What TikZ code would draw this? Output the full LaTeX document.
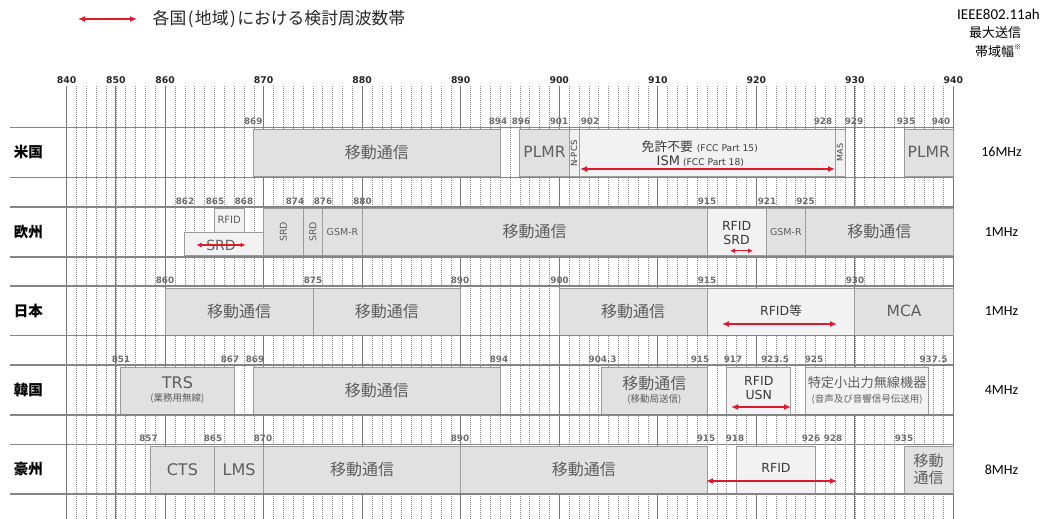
\documentclass[tikz,border=0pt]{standalone}
\usepackage{fontspec}
\setmainfont{Noto Sans CJK JP}
\newfontfamily\jpf{Noto Sans CJK JP}
\newfontfamily\dvf{DejaVu Sans}
\newfontfamily\clf{Carlito}
\usetikzlibrary{arrows.meta}
\definecolor{gridc}{HTML}{8E8E8E}
\definecolor{gridsc}{HTML}{7A7A7A}
\definecolor{rowc}{HTML}{858585}
\definecolor{bandfill}{HTML}{E1E1E1}
\definecolor{lightfill}{HTML}{F2F2F2}
\definecolor{banddraw}{HTML}{9C9C9C}
\definecolor{bandtext}{HTML}{5E5E5E}
\definecolor{darktext}{HTML}{3A3A3A}
\definecolor{arrred}{HTML}{E0182D}
\definecolor{labc}{HTML}{6E6E6E}
\newcommand\fs[1]{\fontsize{#1}{#1}\selectfont}
\newcommand\bandbox[4]{\draw[#4] ({fx(#1)},{#3+2}) rectangle ({fx(#2)},{#3+49});}
\begin{document}
\begin{tikzpicture}[x=1pt,y=-1pt,
  declare function={fx(\q)=ifthenelse(\q>=860,66.6+(10+\q-860)*9.853,66.6+(\q-840)/2*9.853);},
  gridd/.style={draw=gridc, line width=0.6pt, dash pattern=on 0.8pt off 1.2pt},
  grids/.style={draw=gridsc, line width=1pt},
  rowline/.style={draw=rowc, line width=1.6pt},
  midbox/.style={draw=banddraw, fill=bandfill, line width=0.8pt},
  lightbox/.style={draw=banddraw, fill=lightfill, line width=0.8pt},
  btext/.style={text=bandtext, inner sep=0pt, align=center},
  dtext/.style={text=darktext, inner sep=0pt, align=center},
  flab/.style={text=labc, font=\dvf\bfseries\fs{8.8}, inner sep=0pt},
  axlab/.style={text=black!85, font=\dvf\bfseries\fs{9.3}, inner sep=0pt},
  redarr/.style={draw=arrred, line width=1.6pt, {Latex[length=7pt,width=6pt]}-{Latex[length=7pt,width=6pt]}},
  redarrs/.style={draw=arrred, line width=1.3pt, {Latex[length=5pt,width=5pt]}-{Latex[length=5pt,width=5pt]}},
  rowname/.style={font=\jpf\bfseries\fs{14.5}, inner sep=0pt},
  mhz/.style={font=\clf\fs{14}, inner sep=0pt},
  jpbig/.style={font=\jpf\fs{16}},
  lat/.style={font=\dvf\fs{15.5}}
]
\fill[white] (0,0) rectangle (1041,519);
\useasboundingbox (0,0) rectangle (1041,519);

% legend
\coordinate (lgA) at (78,19);
\coordinate (lgB) at (137,19);
\draw[redarr] (lgA) -- (lgB);
\node[anchor=west, font=\jpf\fs{16.8}, text=black!85, inner sep=0pt] (legend) at (152.5,19) {各国\kern1.5pt(\kern1.5pt 地域\kern1.5pt)\kern1.5pt における検討周波数帯};

% header right
\node[font=\clf\fs{15}, inner sep=0pt] (ieee) at (998.5,14) {IEEE802.11ah};
\node[font=\jpf\fs{13}, inner sep=0pt] (maxtx) at (995,32.5) {最大送信};
\node[font=\jpf\fs{13}, inner sep=0pt] (bw) at (998,51) {帯域幅\raisebox{0.5em}{\fs{7}※}};

% grid
\foreach \i in {0,...,90} \draw[gridd] ({66.6+\i*9.853},86) -- ({66.6+\i*9.853},519);
\foreach \i in {0,5,10,20,30,40,50,60,70,80,90} \draw[grids] ({66.6+\i*9.853},86) -- ({66.6+\i*9.853},519);

% axis labels
\foreach \f in {840,850,860,870,880,890,900,910,920,930,940}
  \node[axlab] (ax\f) at ({fx(\f)},79.7) {\f};

% ---------- 米国 (R=127.3)
\def\R{127.3}
\bandbox{869}{894}{\R}{midbox}
\bandbox{896}{901}{\R}{midbox}
\bandbox{901}{902}{\R}{lightbox}
\bandbox{902}{928}{\R}{lightbox}
\bandbox{928}{929}{\R}{lightbox}
\bandbox{935}{940}{\R}{midbox}
\node[btext, jpbig] (us1) at ({(fx(869)+fx(894))/2},152.3) {移動通信};
\node[btext, lat] (us2) at ({(fx(896)+fx(901))/2},152.3) {PLMR};
\node[dtext, rotate=90, font=\dvf\fs{8.5}] (us3) at ({(fx(901)+fx(902))/2},153.5) {N-PCS};
\node[dtext, anchor=west, font=\jpf\fs{12.8}] (us4a) at (641.5,146.5) {免許不要\hspace{4pt}{\dvf\fs{9.2}(FCC Part 15)}};
\node[dtext, anchor=west, font=\dvf\fs{13}] (us4b) at (656.5,161) {ISM\hspace{3pt}{\fs{9.2}(FCC Part 18)}};
\node[dtext, rotate=90, font=\dvf\fs{8}] (us5) at ({(fx(928)+fx(929))/2},152.5) {MAS};
\node[btext, lat] (us6) at ({(fx(935)+fx(940))/2},152.3) {PLMR};
\coordinate (usA) at (580,169);
\coordinate (usB) at (835,169);
\draw[redarr] (usA) -- (usB);
\foreach \x/\t [count=\k] in {253.3/869,498/894,521/896,559/901,590/902,823/928,854/929,906/935,941/940}
  \node[flab] (usl\k) at (\x,{\R-6}) {\t};
\node[rowname] (usn) at (28.3,152.3) {米国};
\node[mhz] (usm) at (1001.5,152.3) {16MHz};

% ---------- 欧州 (R=206.8)
\def\R{206.8}
\draw[lightbox] ({fx(865)},{\R+2}) rectangle ({fx(868)},{\R+25.5});
\draw[lightbox] ({fx(862)},{\R+25.5}) rectangle ({fx(870)},{\R+49});
\bandbox{870}{874}{\R}{midbox}
\bandbox{874}{876}{\R}{midbox}
\bandbox{876}{880}{\R}{midbox}
\bandbox{880}{915}{\R}{midbox}
\bandbox{915}{921}{\R}{lightbox}
\bandbox{921}{925}{\R}{midbox}
\bandbox{925}{940}{\R}{midbox}
\node[btext, font=\dvf\fs{10}] (eu1) at ({(fx(865)+fx(868))/2},219.5) {RFID};
\node[btext, font=\dvf\fs{14}] (eu2) at (221,245) {SRD};
\coordinate (euA) at (196.5,245);
\coordinate (euB) at (245.5,245);
\draw[redarrs] (euA) -- (euB);
\node[btext, rotate=90, font=\dvf\fs{9.5}] (eu3) at ({(fx(870)+fx(874))/2},231.8) {SRD};
\node[btext, rotate=90, font=\dvf\fs{9.5}] (eu4) at ({(fx(874)+fx(876))/2},231.8) {SRD};
\node[btext, font=\dvf\fs{9.5}] (eu5) at ({(fx(876)+fx(880))/2},231.8) {GSM-R};
\node[btext, jpbig] (eu6) at ({(fx(880)+fx(915))/2},231.8) {移動通信};
\node[dtext, font=\dvf\fontsize{12.5}{13.5}\selectfont] (eu7) at ({(fx(915)+fx(921))/2},233) {RFID\\SRD};
\coordinate (euC) at (730,250.8);
\coordinate (euD) at (753,250.8);
\draw[redarrs] (euC) -- (euD);
\node[btext, font=\dvf\fs{9.5}] (eu8) at ({(fx(921)+fx(925))/2},231.8) {GSM-R};
\node[btext, jpbig] (eu9) at ({(fx(925)+fx(940))/2},231.8) {移動通信};
\foreach \x/\t [count=\k] in {185/862,215/865,244/868,295/874,323/876,362.5/880,707/915,767/921,805.5/925}
  \node[flab] (eul\k) at (\x,{\R-6}) {\t};
\node[rowname] (eun) at (28.3,231.8) {欧州};
\node[mhz] (eum) at (1001.5,231.8) {1MHz};

% ---------- 日本 (R=286)
\def\R{286}
\bandbox{860}{875}{\R}{midbox}
\bandbox{875}{890}{\R}{midbox}
\bandbox{900}{915}{\R}{midbox}
\bandbox{915}{930}{\R}{lightbox}
\bandbox{930}{940}{\R}{midbox}
\node[btext, jpbig] (jp1) at ({(fx(860)+fx(875))/2},311) {移動通信};
\node[btext, jpbig] (jp2) at ({(fx(875)+fx(890))/2},311) {移動通信};
\node[btext, jpbig] (jp3) at ({(fx(900)+fx(915))/2},311) {移動通信};
\node[dtext, font=\dvf\fs{12.5}] (jp4) at ({(fx(915)+fx(930))/2},311) {RFID{\jpf 等}};
\coordinate (jpA) at (722,324);
\coordinate (jpB) at (837,324);
\draw[redarr] (jpA) -- (jpB);
\node[btext, lat] (jp5) at ({(fx(930)+fx(940))/2},311) {MCA};
\foreach \x/\t [count=\k] in {165/860,313/875,460/890,559.6/900,707/915,855/930}
  \node[flab] (jpl\k) at (\x,{\R-6}) {\t};
\node[rowname] (jpn) at (28.3,311) {日本};
\node[mhz] (jpm) at (1001.5,311) {1MHz};

% ---------- 韓国 (R=365)
\def\R{365}
\bandbox{851}{867}{\R}{midbox}
\bandbox{869}{894}{\R}{midbox}
\bandbox{904.3}{915}{\R}{midbox}
\bandbox{917}{923.5}{\R}{lightbox}
\bandbox{925}{937.5}{\R}{lightbox}
\node[btext, font=\dvf\fs{16}] (kr1) at ({(fx(851)+fx(867))/2},383) {TRS};
\node[btext, font=\jpf\fs{9.5}] (kr1b) at ({(fx(851)+fx(867))/2},398.5) {(業務用無線)};
\node[btext, jpbig] (kr2) at ({(fx(869)+fx(894))/2},390) {移動通信};
\node[btext, jpbig] (kr3) at ({(fx(904.3)+fx(915))/2},383) {移動通信};
\node[btext, font=\jpf\fs{9.5}] (kr3b) at ({(fx(904.3)+fx(915))/2},399) {(移動局送信)};
\node[dtext, font=\dvf\fontsize{12.5}{13.5}\selectfont] (kr4) at ({(fx(917)+fx(923.5))/2},388) {RFID\\USN};
\coordinate (krA) at (731,407);
\coordinate (krB) at (791,407);
\draw[redarr] (krA) -- (krB);
\node[btext, font=\jpf\fs{13.2}] (kr5) at ({(fx(925)+fx(937.5))/2},383) {特定小出力無線機器};
\node[btext, font=\jpf\fs{9.5}] (kr5b) at ({(fx(925)+fx(937.5))/2},399) {(音声及び音響信号伝送用)};
\foreach \x/\t [count=\k] in {121/851,230/867,255/869,499/894,602.6/904.3,700/915,733/917,775/923.5,814/925,933.5/937.5}
  \node[flab] (krl\k) at (\x,{\R-6}) {\t};
\node[rowname] (krn) at (28.3,390) {韓国};
\node[mhz] (krm) at (1001.5,390) {4MHz};

% ---------- 豪州 (R=444.3)
\def\R{444.3}
\bandbox{857}{865}{\R}{midbox}
\bandbox{865}{870}{\R}{midbox}
\bandbox{870}{890}{\R}{midbox}
\bandbox{890}{915}{\R}{midbox}
\bandbox{918}{926}{\R}{lightbox}
\bandbox{935}{940}{\R}{midbox}
\node[btext, font=\dvf\fs{16}] (au1) at ({(fx(857)+fx(865))/2},469.3) {CTS};
\node[btext, font=\dvf\fs{16}] (au2) at ({(fx(865)+fx(870))/2},469.3) {LMS};
\node[btext, jpbig] (au3) at ({(fx(870)+fx(890))/2},469.3) {移動通信};
\node[btext, jpbig] (au4) at ({(fx(890)+fx(915))/2},469.3) {移動通信};
\node[dtext, font=\dvf\fs{12.5}] (au5) at ({(fx(918)+fx(926))/2},467.5) {RFID};
\coordinate (auA) at (706,481);
\coordinate (auB) at (837,481);
\draw[redarr] (auA) -- (auB);
\node[btext, font=\jpf\fontsize{15}{17.5}\selectfont] (au6) at ({(fx(935)+fx(940))/2},469.3) {移動\\通信};
\foreach \x/\t [count=\k] in {148.5/857,213/865,263/870,460/890,706/915,735/918,811/926,833/928,904/935}
  \node[flab] (aul\k) at (\x,{\R-6}) {\t};
\node[rowname] (aun) at (28.3,469.3) {豪州};
\node[mhz] (aum) at (1001.5,469.3) {8MHz};

% row lines
\foreach \y in {127.3,177.5,206.8,256.7,286,335.5,365,415,444.3,494}
  \draw[rowline] (10,\y) -- (953.4,\y);
\end{tikzpicture}
\end{document}
